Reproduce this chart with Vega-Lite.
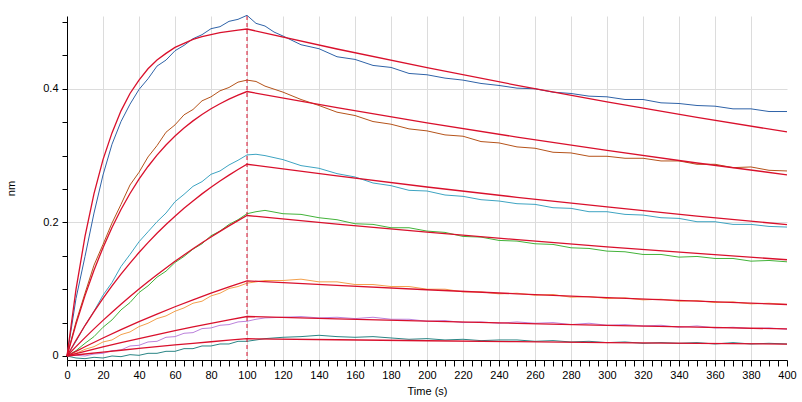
{
  "$schema": "https://vega.github.io/schema/vega-lite/v6.json",
  "width": 720,
  "height": 344,
  "autosize": {"type": "none"},
  "padding": {"left": 67, "top": 16, "right": 15, "bottom": 42},
  "background": "white",
  "config": {"view": {"stroke": null}, "font": "Liberation Sans"},
  "datasets": {
    "raw": [
      {"s":"d1","t":0,"y":0},{"s":"d1","t":5,"y":0.086},{"s":"d1","t":10,"y":0.149},{"s":"d1","t":15,"y":0.214},{"s":"d1","t":20,"y":0.271},{"s":"d1","t":25,"y":0.317},{"s":"d1","t":30,"y":0.351},{"s":"d1","t":35,"y":0.377},{"s":"d1","t":40,"y":0.399},{"s":"d1","t":45,"y":0.415},{"s":"d1","t":50,"y":0.434},{"s":"d1","t":55,"y":0.443},{"s":"d1","t":60,"y":0.457},{"s":"d1","t":65,"y":0.465},{"s":"d1","t":70,"y":0.475},{"s":"d1","t":75,"y":0.481},{"s":"d1","t":80,"y":0.490},{"s":"d1","t":85,"y":0.493},{"s":"d1","t":90,"y":0.501},{"s":"d1","t":95,"y":0.504},{"s":"d1","t":100,"y":0.510},
      {"s":"d1","t":105,"y":0.498},{"s":"d1","t":110,"y":0.494},{"s":"d1","t":115,"y":0.485},{"s":"d1","t":120,"y":0.479},{"s":"d1","t":130,"y":0.466},{"s":"d1","t":140,"y":0.460},{"s":"d1","t":150,"y":0.448},{"s":"d1","t":160,"y":0.444},{"s":"d1","t":170,"y":0.435},{"s":"d1","t":180,"y":0.432},{"s":"d1","t":190,"y":0.423},{"s":"d1","t":200,"y":0.421},{"s":"d1","t":210,"y":0.416},{"s":"d1","t":220,"y":0.413},{"s":"d1","t":230,"y":0.408},{"s":"d1","t":240,"y":0.405},{"s":"d1","t":250,"y":0.401},{"s":"d1","t":260,"y":0.400},{"s":"d1","t":270,"y":0.395},{"s":"d1","t":280,"y":0.393},{"s":"d1","t":290,"y":0.389},{"s":"d1","t":300,"y":0.388},{"s":"d1","t":310,"y":0.384},{"s":"d1","t":320,"y":0.384},{"s":"d1","t":330,"y":0.379},{"s":"d1","t":340,"y":0.378},{"s":"d1","t":350,"y":0.375},{"s":"d1","t":360,"y":0.374},{"s":"d1","t":370,"y":0.370},{"s":"d1","t":380,"y":0.370},{"s":"d1","t":390,"y":0.366},{"s":"d1","t":400,"y":0.366},

      {"s":"d2","t":0,"y":0},{"s":"d2","t":5,"y":0.051},{"s":"d2","t":10,"y":0.094},{"s":"d2","t":15,"y":0.136},{"s":"d2","t":20,"y":0.167},{"s":"d2","t":25,"y":0.199},{"s":"d2","t":30,"y":0.227},{"s":"d2","t":35,"y":0.256},{"s":"d2","t":40,"y":0.275},{"s":"d2","t":45,"y":0.298},{"s":"d2","t":50,"y":0.315},{"s":"d2","t":55,"y":0.335},{"s":"d2","t":60,"y":0.346},{"s":"d2","t":65,"y":0.361},{"s":"d2","t":70,"y":0.369},{"s":"d2","t":75,"y":0.382},{"s":"d2","t":80,"y":0.388},{"s":"d2","t":85,"y":0.397},{"s":"d2","t":90,"y":0.402},{"s":"d2","t":95,"y":0.410},{"s":"d2","t":100,"y":0.413},
      {"s":"d2","t":105,"y":0.411},{"s":"d2","t":110,"y":0.404},{"s":"d2","t":120,"y":0.395},{"s":"d2","t":130,"y":0.384},{"s":"d2","t":140,"y":0.375},{"s":"d2","t":150,"y":0.365},{"s":"d2","t":160,"y":0.360},{"s":"d2","t":170,"y":0.351},{"s":"d2","t":180,"y":0.347},{"s":"d2","t":190,"y":0.340},{"s":"d2","t":200,"y":0.337},{"s":"d2","t":210,"y":0.331},{"s":"d2","t":220,"y":0.329},{"s":"d2","t":230,"y":0.321},{"s":"d2","t":240,"y":0.319},{"s":"d2","t":250,"y":0.313},{"s":"d2","t":260,"y":0.311},{"s":"d2","t":270,"y":0.305},{"s":"d2","t":280,"y":0.304},{"s":"d2","t":290,"y":0.299},{"s":"d2","t":300,"y":0.299},{"s":"d2","t":310,"y":0.296},{"s":"d2","t":320,"y":0.296},{"s":"d2","t":330,"y":0.292},{"s":"d2","t":340,"y":0.292},{"s":"d2","t":350,"y":0.287},{"s":"d2","t":360,"y":0.287},{"s":"d2","t":370,"y":0.282},{"s":"d2","t":380,"y":0.283},{"s":"d2","t":390,"y":0.278},{"s":"d2","t":400,"y":0.277},

      {"s":"d3","t":0,"y":0},{"s":"d3","t":5,"y":0.022},{"s":"d3","t":10,"y":0.046},{"s":"d3","t":15,"y":0.067},{"s":"d3","t":20,"y":0.091},{"s":"d3","t":25,"y":0.110},{"s":"d3","t":30,"y":0.134},{"s":"d3","t":35,"y":0.152},{"s":"d3","t":40,"y":0.171},{"s":"d3","t":45,"y":0.186},{"s":"d3","t":50,"y":0.201},{"s":"d3","t":55,"y":0.214},{"s":"d3","t":60,"y":0.231},{"s":"d3","t":65,"y":0.242},{"s":"d3","t":70,"y":0.254},{"s":"d3","t":75,"y":0.261},{"s":"d3","t":80,"y":0.272},{"s":"d3","t":85,"y":0.277},{"s":"d3","t":90,"y":0.286},{"s":"d3","t":95,"y":0.293},{"s":"d3","t":100,"y":0.301},
      {"s":"d3","t":105,"y":0.302},{"s":"d3","t":110,"y":0.300},{"s":"d3","t":120,"y":0.294},{"s":"d3","t":130,"y":0.285},{"s":"d3","t":140,"y":0.281},{"s":"d3","t":150,"y":0.273},{"s":"d3","t":160,"y":0.268},{"s":"d3","t":170,"y":0.259},{"s":"d3","t":180,"y":0.255},{"s":"d3","t":190,"y":0.248},{"s":"d3","t":200,"y":0.247},{"s":"d3","t":210,"y":0.241},{"s":"d3","t":220,"y":0.239},{"s":"d3","t":230,"y":0.234},{"s":"d3","t":240,"y":0.232},{"s":"d3","t":250,"y":0.228},{"s":"d3","t":260,"y":0.227},{"s":"d3","t":270,"y":0.222},{"s":"d3","t":280,"y":0.221},{"s":"d3","t":290,"y":0.216},{"s":"d3","t":300,"y":0.216},{"s":"d3","t":310,"y":0.212},{"s":"d3","t":320,"y":0.211},{"s":"d3","t":330,"y":0.207},{"s":"d3","t":340,"y":0.206},{"s":"d3","t":350,"y":0.201},{"s":"d3","t":360,"y":0.201},{"s":"d3","t":370,"y":0.197},{"s":"d3","t":380,"y":0.197},{"s":"d3","t":390,"y":0.194},{"s":"d3","t":400,"y":0.193},

      {"s":"d4","t":0,"y":0},{"s":"d4","t":5,"y":0.008},{"s":"d4","t":10,"y":0.019},{"s":"d4","t":15,"y":0.029},{"s":"d4","t":20,"y":0.043},{"s":"d4","t":25,"y":0.054},{"s":"d4","t":30,"y":0.069},{"s":"d4","t":35,"y":0.080},{"s":"d4","t":40,"y":0.095},{"s":"d4","t":45,"y":0.105},{"s":"d4","t":50,"y":0.118},{"s":"d4","t":55,"y":0.127},{"s":"d4","t":60,"y":0.140},{"s":"d4","t":65,"y":0.149},{"s":"d4","t":70,"y":0.160},{"s":"d4","t":75,"y":0.168},{"s":"d4","t":80,"y":0.180},{"s":"d4","t":85,"y":0.187},{"s":"d4","t":90,"y":0.197},{"s":"d4","t":95,"y":0.204},{"s":"d4","t":100,"y":0.213},
      {"s":"d4","t":105,"y":0.216},{"s":"d4","t":110,"y":0.218},{"s":"d4","t":120,"y":0.213},{"s":"d4","t":130,"y":0.212},{"s":"d4","t":140,"y":0.207},{"s":"d4","t":150,"y":0.204},{"s":"d4","t":160,"y":0.198},{"s":"d4","t":170,"y":0.197},{"s":"d4","t":180,"y":0.192},{"s":"d4","t":190,"y":0.192},{"s":"d4","t":200,"y":0.187},{"s":"d4","t":210,"y":0.185},{"s":"d4","t":220,"y":0.179},{"s":"d4","t":230,"y":0.178},{"s":"d4","t":240,"y":0.173},{"s":"d4","t":250,"y":0.172},{"s":"d4","t":260,"y":0.168},{"s":"d4","t":270,"y":0.167},{"s":"d4","t":280,"y":0.162},{"s":"d4","t":290,"y":0.161},{"s":"d4","t":300,"y":0.157},{"s":"d4","t":310,"y":0.156},{"s":"d4","t":320,"y":0.152},{"s":"d4","t":330,"y":0.152},{"s":"d4","t":340,"y":0.148},{"s":"d4","t":350,"y":0.149},{"s":"d4","t":360,"y":0.146},{"s":"d4","t":370,"y":0.146},{"s":"d4","t":380,"y":0.142},{"s":"d4","t":390,"y":0.143},{"s":"d4","t":400,"y":0.141},

      {"s":"d5","t":0,"y":0},{"s":"d5","t":5,"y":0.004},{"s":"d5","t":10,"y":0.010},{"s":"d5","t":15,"y":0.014},{"s":"d5","t":20,"y":0.021},{"s":"d5","t":25,"y":0.024},{"s":"d5","t":30,"y":0.032},{"s":"d5","t":35,"y":0.036},{"s":"d5","t":40,"y":0.044},{"s":"d5","t":45,"y":0.049},{"s":"d5","t":50,"y":0.056},{"s":"d5","t":55,"y":0.060},{"s":"d5","t":60,"y":0.067},{"s":"d5","t":65,"y":0.072},{"s":"d5","t":70,"y":0.079},{"s":"d5","t":75,"y":0.082},{"s":"d5","t":80,"y":0.090},{"s":"d5","t":85,"y":0.094},{"s":"d5","t":90,"y":0.101},{"s":"d5","t":95,"y":0.104},{"s":"d5","t":100,"y":0.109},
      {"s":"d5","t":105,"y":0.111},{"s":"d5","t":110,"y":0.113},{"s":"d5","t":120,"y":0.113},{"s":"d5","t":130,"y":0.115},{"s":"d5","t":140,"y":0.111},{"s":"d5","t":150,"y":0.111},{"s":"d5","t":160,"y":0.107},{"s":"d5","t":170,"y":0.107},{"s":"d5","t":180,"y":0.104},{"s":"d5","t":190,"y":0.104},{"s":"d5","t":200,"y":0.100},{"s":"d5","t":210,"y":0.100},{"s":"d5","t":220,"y":0.096},{"s":"d5","t":230,"y":0.096},{"s":"d5","t":240,"y":0.093},{"s":"d5","t":250,"y":0.094},{"s":"d5","t":260,"y":0.091},{"s":"d5","t":270,"y":0.092},{"s":"d5","t":280,"y":0.088},{"s":"d5","t":290,"y":0.089},{"s":"d5","t":300,"y":0.086},{"s":"d5","t":310,"y":0.087},{"s":"d5","t":320,"y":0.084},{"s":"d5","t":330,"y":0.085},{"s":"d5","t":340,"y":0.082},{"s":"d5","t":350,"y":0.083},{"s":"d5","t":360,"y":0.080},{"s":"d5","t":370,"y":0.081},{"s":"d5","t":380,"y":0.078},{"s":"d5","t":390,"y":0.079},{"s":"d5","t":400,"y":0.077},

      {"s":"d6","t":0,"y":0},{"s":"d6","t":5,"y":0.001},{"s":"d6","t":10,"y":0.000},{"s":"d6","t":15,"y":0.003},{"s":"d6","t":20,"y":0.004},{"s":"d6","t":25,"y":0.008},{"s":"d6","t":30,"y":0.009},{"s":"d6","t":35,"y":0.015},{"s":"d6","t":40,"y":0.016},{"s":"d6","t":45,"y":0.021},{"s":"d6","t":50,"y":0.022},{"s":"d6","t":55,"y":0.028},{"s":"d6","t":60,"y":0.029},{"s":"d6","t":65,"y":0.034},{"s":"d6","t":70,"y":0.035},{"s":"d6","t":75,"y":0.041},{"s":"d6","t":80,"y":0.042},{"s":"d6","t":85,"y":0.046},{"s":"d6","t":90,"y":0.047},{"s":"d6","t":95,"y":0.051},{"s":"d6","t":100,"y":0.052},
      {"s":"d6","t":105,"y":0.055},{"s":"d6","t":110,"y":0.057},{"s":"d6","t":120,"y":0.058},{"s":"d6","t":130,"y":0.059},{"s":"d6","t":140,"y":0.057},{"s":"d6","t":150,"y":0.058},{"s":"d6","t":160,"y":0.056},{"s":"d6","t":170,"y":0.058},{"s":"d6","t":180,"y":0.055},{"s":"d6","t":190,"y":0.055},{"s":"d6","t":200,"y":0.052},{"s":"d6","t":210,"y":0.053},{"s":"d6","t":220,"y":0.050},{"s":"d6","t":230,"y":0.051},{"s":"d6","t":240,"y":0.049},{"s":"d6","t":250,"y":0.051},{"s":"d6","t":260,"y":0.049},{"s":"d6","t":270,"y":0.050},{"s":"d6","t":280,"y":0.047},{"s":"d6","t":290,"y":0.049},{"s":"d6","t":300,"y":0.046},{"s":"d6","t":310,"y":0.047},{"s":"d6","t":320,"y":0.045},{"s":"d6","t":330,"y":0.046},{"s":"d6","t":340,"y":0.043},{"s":"d6","t":350,"y":0.045},{"s":"d6","t":360,"y":0.042},{"s":"d6","t":370,"y":0.043},{"s":"d6","t":380,"y":0.041},{"s":"d6","t":390,"y":0.042},{"s":"d6","t":400,"y":0.040},

      {"s":"d7","t":0,"y":0},{"s":"d7","t":5,"y":-0.003},{"s":"d7","t":10,"y":-0.004},{"s":"d7","t":15,"y":-0.002},{"s":"d7","t":20,"y":-0.003},{"s":"d7","t":25,"y":0.000},{"s":"d7","t":30,"y":-0.001},{"s":"d7","t":35,"y":0.002},{"s":"d7","t":40,"y":0.001},{"s":"d7","t":45,"y":0.004},{"s":"d7","t":50,"y":0.004},{"s":"d7","t":55,"y":0.007},{"s":"d7","t":60,"y":0.007},{"s":"d7","t":65,"y":0.011},{"s":"d7","t":70,"y":0.011},{"s":"d7","t":75,"y":0.015},{"s":"d7","t":80,"y":0.015},{"s":"d7","t":85,"y":0.018},{"s":"d7","t":90,"y":0.018},{"s":"d7","t":95,"y":0.022},{"s":"d7","t":100,"y":0.022},
      {"s":"d7","t":105,"y":0.024},{"s":"d7","t":110,"y":0.026},{"s":"d7","t":120,"y":0.028},{"s":"d7","t":130,"y":0.029},{"s":"d7","t":140,"y":0.031},{"s":"d7","t":150,"y":0.029},{"s":"d7","t":160,"y":0.028},{"s":"d7","t":170,"y":0.029},{"s":"d7","t":180,"y":0.027},{"s":"d7","t":190,"y":0.025},{"s":"d7","t":200,"y":0.026},{"s":"d7","t":210,"y":0.024},{"s":"d7","t":220,"y":0.025},{"s":"d7","t":230,"y":0.023},{"s":"d7","t":240,"y":0.024},{"s":"d7","t":250,"y":0.024},{"s":"d7","t":260,"y":0.022},{"s":"d7","t":270,"y":0.023},{"s":"d7","t":280,"y":0.021},{"s":"d7","t":290,"y":0.022},{"s":"d7","t":300,"y":0.020},{"s":"d7","t":310,"y":0.021},{"s":"d7","t":320,"y":0.019},{"s":"d7","t":330,"y":0.020},{"s":"d7","t":340,"y":0.019},{"s":"d7","t":350,"y":0.020},{"s":"d7","t":360,"y":0.018},{"s":"d7","t":370,"y":0.020},{"s":"d7","t":380,"y":0.018},{"s":"d7","t":390,"y":0.019},{"s":"d7","t":400,"y":0.018}
    ],
    "fit": [
      {"s":"f1","t":0,"y":0},{"s":"f1","t":5,"y":0.0997},{"s":"f1","t":10,"y":0.179},{"s":"f1","t":15,"y":0.243},{"s":"f1","t":20,"y":0.294},{"s":"f1","t":25,"y":0.334},{"s":"f1","t":30,"y":0.367},{"s":"f1","t":35,"y":0.393},{"s":"f1","t":40,"y":0.413},{"s":"f1","t":45,"y":0.430},{"s":"f1","t":50,"y":0.443},{"s":"f1","t":55,"y":0.453},{"s":"f1","t":60,"y":0.462},{"s":"f1","t":65,"y":0.468},{"s":"f1","t":70,"y":0.474},{"s":"f1","t":75,"y":0.478},{"s":"f1","t":80,"y":0.481},{"s":"f1","t":85,"y":0.484},{"s":"f1","t":90,"y":0.486},{"s":"f1","t":95,"y":0.488},{"s":"f1","t":100,"y":0.4895},{"s":"f1","t":150,"y":0.4596},{"s":"f1","t":200,"y":0.4316},{"s":"f1","t":250,"y":0.4052},{"s":"f1","t":300,"y":0.3805},{"s":"f1","t":350,"y":0.3572},{"s":"f1","t":400,"y":0.3354},
      {"s":"f2","t":0,"y":0},{"s":"f2","t":5,"y":0.0478},{"s":"f2","t":10,"y":0.0904},{"s":"f2","t":15,"y":0.1284},{"s":"f2","t":20,"y":0.1622},{"s":"f2","t":25,"y":0.1924},{"s":"f2","t":30,"y":0.2193},{"s":"f2","t":35,"y":0.2433},{"s":"f2","t":40,"y":0.2647},{"s":"f2","t":45,"y":0.2837},{"s":"f2","t":50,"y":0.3007},{"s":"f2","t":55,"y":0.3158},{"s":"f2","t":60,"y":0.3293},{"s":"f2","t":65,"y":0.3413},{"s":"f2","t":70,"y":0.3520},{"s":"f2","t":75,"y":0.3616},{"s":"f2","t":80,"y":0.3701},{"s":"f2","t":85,"y":0.3777},{"s":"f2","t":90,"y":0.3845},{"s":"f2","t":95,"y":0.3905},{"s":"f2","t":100,"y":0.3959},{"s":"f2","t":150,"y":0.3718},{"s":"f2","t":200,"y":0.3490},{"s":"f2","t":250,"y":0.3277},{"s":"f2","t":300,"y":0.3077},{"s":"f2","t":350,"y":0.2889},{"s":"f2","t":400,"y":0.2713},
      {"s":"f3","t":0,"y":0},{"s":"f3","t":5,"y":0.0235},{"s":"f3","t":10,"y":0.0456},{"s":"f3","t":15,"y":0.0665},{"s":"f3","t":20,"y":0.0863},{"s":"f3","t":25,"y":0.1049},{"s":"f3","t":30,"y":0.1226},{"s":"f3","t":35,"y":0.1391},{"s":"f3","t":40,"y":0.1549},{"s":"f3","t":45,"y":0.1697},{"s":"f3","t":50,"y":0.1837},{"s":"f3","t":55,"y":0.1969},{"s":"f3","t":60,"y":0.2093},{"s":"f3","t":65,"y":0.2211},{"s":"f3","t":70,"y":0.2322},{"s":"f3","t":75,"y":0.2427},{"s":"f3","t":80,"y":0.2526},{"s":"f3","t":85,"y":0.2620},{"s":"f3","t":90,"y":0.2708},{"s":"f3","t":95,"y":0.2791},{"s":"f3","t":100,"y":0.2870},{"s":"f3","t":150,"y":0.2695},{"s":"f3","t":200,"y":0.2530},{"s":"f3","t":250,"y":0.2376},{"s":"f3","t":300,"y":0.2231},{"s":"f3","t":350,"y":0.2095},{"s":"f3","t":400,"y":0.1967},
      {"s":"f4","t":0,"y":0},{"s":"f4","t":5,"y":0.0140},{"s":"f4","t":10,"y":0.0275},{"s":"f4","t":15,"y":0.0406},{"s":"f4","t":20,"y":0.0533},{"s":"f4","t":25,"y":0.0656},{"s":"f4","t":30,"y":0.0775},{"s":"f4","t":35,"y":0.0891},{"s":"f4","t":40,"y":0.1002},{"s":"f4","t":45,"y":0.1111},{"s":"f4","t":50,"y":0.1216},{"s":"f4","t":55,"y":0.1318},{"s":"f4","t":60,"y":0.1417},{"s":"f4","t":65,"y":0.1512},{"s":"f4","t":70,"y":0.1605},{"s":"f4","t":75,"y":0.1695},{"s":"f4","t":80,"y":0.1782},{"s":"f4","t":85,"y":0.1866},{"s":"f4","t":90,"y":0.1948},{"s":"f4","t":95,"y":0.2027},{"s":"f4","t":100,"y":0.2103},{"s":"f4","t":150,"y":0.1975},{"s":"f4","t":200,"y":0.1854},{"s":"f4","t":250,"y":0.1741},{"s":"f4","t":300,"y":0.1635},{"s":"f4","t":350,"y":0.1535},{"s":"f4","t":400,"y":0.1441},
      {"s":"f5","t":0,"y":0},{"s":"f5","t":5,"y":0.0070},{"s":"f5","t":10,"y":0.0138},{"s":"f5","t":20,"y":0.0269},{"s":"f5","t":30,"y":0.0395},{"s":"f5","t":40,"y":0.0514},{"s":"f5","t":50,"y":0.0628},{"s":"f5","t":60,"y":0.0737},{"s":"f5","t":70,"y":0.0841},{"s":"f5","t":80,"y":0.0940},{"s":"f5","t":90,"y":0.1035},{"s":"f5","t":100,"y":0.1125},{"s":"f5","t":150,"y":0.1056},{"s":"f5","t":200,"y":0.0992},{"s":"f5","t":250,"y":0.0931},{"s":"f5","t":300,"y":0.0874},{"s":"f5","t":350,"y":0.0821},{"s":"f5","t":400,"y":0.0771},
      {"s":"f6","t":0,"y":0},{"s":"f6","t":10,"y":0.0069},{"s":"f6","t":20,"y":0.0135},{"s":"f6","t":30,"y":0.0199},{"s":"f6","t":40,"y":0.0261},{"s":"f6","t":50,"y":0.0321},{"s":"f6","t":60,"y":0.0379},{"s":"f6","t":70,"y":0.0435},{"s":"f6","t":80,"y":0.0488},{"s":"f6","t":90,"y":0.0540},{"s":"f6","t":100,"y":0.0591},{"s":"f6","t":150,"y":0.0555},{"s":"f6","t":200,"y":0.0521},{"s":"f6","t":250,"y":0.0489},{"s":"f6","t":300,"y":0.0459},{"s":"f6","t":350,"y":0.0431},{"s":"f6","t":400,"y":0.0405},
      {"s":"f7","t":0,"y":0},{"s":"f7","t":10,"y":0.0030},{"s":"f7","t":20,"y":0.0058},{"s":"f7","t":30,"y":0.0086},{"s":"f7","t":40,"y":0.0113},{"s":"f7","t":50,"y":0.0139},{"s":"f7","t":60,"y":0.0165},{"s":"f7","t":70,"y":0.0189},{"s":"f7","t":80,"y":0.0213},{"s":"f7","t":90,"y":0.0237},{"s":"f7","t":100,"y":0.0259},{"s":"f7","t":150,"y":0.0243},{"s":"f7","t":200,"y":0.0228},{"s":"f7","t":250,"y":0.0214},{"s":"f7","t":300,"y":0.0201},{"s":"f7","t":350,"y":0.0189},{"s":"f7","t":400,"y":0.0177}
    ]
  },
  "layer": [
    {
      "data": {"name": "raw"},
      "mark": {"type": "line", "strokeWidth": 1},
      "encoding": {
        "x": {
          "field": "t", "type": "quantitative",
          "scale": {"domain": [0, 400], "nice": false, "zero": false},
          "axis": {
            "title": "Time (s)",
            "values": [0,5,10,15,20,25,30,35,40,45,50,55,60,65,70,75,80,85,90,95,100,105,110,115,120,125,130,135,140,145,150,155,160,165,170,175,180,185,190,195,200,205,210,215,220,225,230,235,240,245,250,255,260,265,270,275,280,285,290,295,300,305,310,315,320,325,330,335,340,345,350,355,360,365,370,375,380,385,390,395,400],
            "tickCount": 200,
            "labelExpr": "datum.value % 20 === 0 ? datum.label : ''",
            "labelOverlap": false,
            "labelFlush": false,
            "grid": true,
            "gridColor": "#dcdcdc",
            "gridOpacity": {"condition": {"test": "datum.value % 20 === 0 && datum.value > 0 && datum.value < 400", "value": 1}, "value": 0},
            "domainColor": "#000000",
            "tickColor": "#000000",
            "tickSize": 6,
            "labelFontSize": 11,
            "labelColor": "#000000",
            "labelPadding": 3,
            "titleFontSize": 11,
            "titleFontWeight": "normal",
            "titleColor": "#000000",
            "titlePadding": 5
          }
        },
        "y": {
          "field": "y", "type": "quantitative",
          "scale": {"domain": [-0.006, 0.509], "nice": false, "zero": false},
          "axis": {
            "title": "nm",
            "values": [0,0.05,0.1,0.15,0.2,0.25,0.3,0.35,0.4,0.45,0.5],
            "tickCount": 50,
            "format": ".1~f",
            "labelExpr": "round(datum.value*20) % 4 === 0 ? datum.label : ''",
            "labelOverlap": false,
            "labelFlush": false,
            "grid": true,
            "gridColor": "#dcdcdc",
            "gridOpacity": {"condition": {"test": "round(datum.value*20) % 4 === 0 && datum.value > 0", "value": 1}, "value": 0},
            "domainColor": "#000000",
            "tickColor": "#000000",
            "tickSize": 5,
            "labelFontSize": 11,
            "labelColor": "#000000",
            "labelPadding": 4,
            "titleFontSize": 11,
            "titleFontWeight": "normal",
            "titleColor": "#000000",
            "titlePadding": 26
          }
        },
        "color": {
          "field": "s", "type": "nominal",
          "scale": {"domain": ["d1","d2","d3","d4","d5","d6","d7"], "range": ["#2f63a8","#b5531a","#3ea4c2","#43b33a","#f3a04c","#bb82dc","#2a8585"]},
          "legend": null
        }
      }
    },
    {
      "data": {"name": "fit"},
      "mark": {"type": "line", "color": "#d9102c", "strokeWidth": 1.3},
      "encoding": {
        "x": {"field": "t", "type": "quantitative"},
        "y": {"field": "y", "type": "quantitative"},
        "detail": {"field": "s", "type": "nominal"}
      }
    },
    {
      "data": {"values": [{}]},
      "mark": {"type": "rule", "color": "#d8102c", "strokeDash": [4, 3], "strokeWidth": 1},
      "encoding": {"x": {"datum": 100, "type": "quantitative"}}
    }
  ]
}
